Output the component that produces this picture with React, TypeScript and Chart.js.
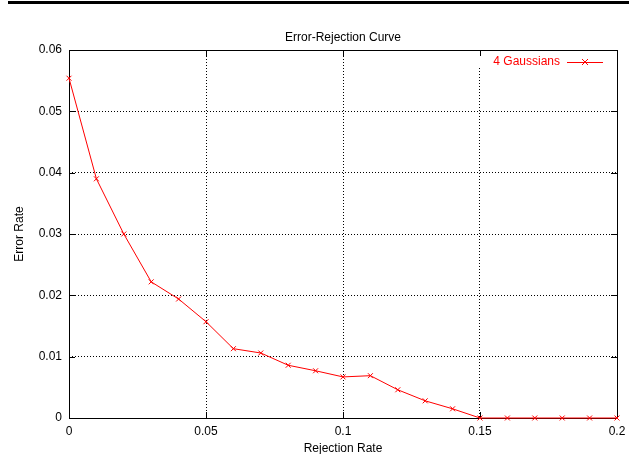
import React, { useEffect, useRef } from 'react';
import { Chart, registerables } from 'chart.js';

Chart.register(...registerables);

const chartTitle = 'Error-Rejection Curve';
const xAxisTitle = 'Rejection Rate';
const yAxisTitle = 'Error Rate';
const seriesLabel = '4 Gaussians';

const rejectionRates = [0, 0.01, 0.02, 0.03, 0.04, 0.05, 0.06, 0.07, 0.08, 0.09, 0.1, 0.11, 0.12, 0.13, 0.14, 0.15, 0.16, 0.17, 0.18, 0.19, 0.2];
const errorRates = [0.0554, 0.039, 0.03, 0.0222, 0.0194, 0.0157, 0.0113, 0.0106, 0.0086, 0.0077, 0.0067, 0.0069, 0.0046, 0.0028, 0.0015, 0, 0, 0, 0, 0, 0];

const xTicks = [0, 0.05, 0.1, 0.15, 0.2];
const yTicks = [0, 0.01, 0.02, 0.03, 0.04, 0.05, 0.06];

const FONT = "'Liberation Sans', Arial, Helvetica, sans-serif";
const RED = '#ff0000';

const fmt = (v: number) => String(Number(v.toFixed(4)));

const decorPlugin = {
  id: 'gnuplotDecor',
  beforeDraw(chart: any) {
    const ctx = chart.ctx;
    ctx.save();
    ctx.fillStyle = '#ffffff';
    ctx.fillRect(0, 0, chart.width, chart.height);
    ctx.fillStyle = '#000000';
    ctx.fillRect(8, 1, chart.width - 8, 3);
    ctx.restore();
  },
  beforeDatasetsDraw(chart: any) {
    const ctx = chart.ctx;
    const { left, right, top, bottom } = chart.chartArea;
    const xs = chart.scales.x;
    const ys = chart.scales.y;
    ctx.save();
    // legend background clears grid lines behind the key
    ctx.fillStyle = '#ffffff';
    ctx.fillRect(470, top + 1, right - 470 - 1, 17);
    // border
    ctx.strokeStyle = '#000000';
    ctx.lineWidth = 1;
    ctx.strokeRect(Math.round(left) + 0.5, Math.round(top) + 0.5, Math.round(right - left), Math.round(bottom - top));
    // inward ticks
    const tl = 6;
    ctx.beginPath();
    xTicks.forEach((v) => {
      const px = Math.round(xs.getPixelForValue(v)) + 0.5;
      ctx.moveTo(px, bottom);
      ctx.lineTo(px, bottom - tl);
      ctx.moveTo(px, top);
      ctx.lineTo(px, top + tl);
    });
    yTicks.forEach((v) => {
      const py = Math.round(ys.getPixelForValue(v)) + 0.5;
      ctx.moveTo(left, py);
      ctx.lineTo(left + tl, py);
      ctx.moveTo(right, py);
      ctx.lineTo(right - tl, py);
    });
    ctx.stroke();
    ctx.restore();
  },
  afterDatasetsDraw(chart: any) {
    const ctx = chart.ctx;
    const { top } = chart.chartArea;
    const y = top + 12;
    ctx.save();
    ctx.fillStyle = RED;
    ctx.strokeStyle = RED;
    ctx.font = `12px ${FONT}`;
    ctx.textAlign = 'right';
    ctx.textBaseline = 'middle';
    ctx.fillText(seriesLabel, 560, y);
    ctx.lineWidth = 1;
    ctx.beginPath();
    ctx.moveTo(567, y + 0.5);
    ctx.lineTo(603, y + 0.5);
    const cx = 585;
    const r = 3;
    ctx.moveTo(cx - r, y - r);
    ctx.lineTo(cx + r, y + r);
    ctx.moveTo(cx - r, y + r);
    ctx.lineTo(cx + r, y - r);
    ctx.stroke();
    ctx.restore();
  },
};

export default function App() {
  const ref = useRef<HTMLCanvasElement | null>(null);

  useEffect(() => {
    if (!ref.current) return;
    const chart = new Chart(ref.current, {
      type: 'line',
      data: {
        datasets: [
          {
            label: seriesLabel,
            data: rejectionRates.map((x, i) => ({ x, y: errorRates[i] })),
            borderColor: RED,
            backgroundColor: RED,
            borderWidth: 1,
            pointStyle: 'crossRot',
            pointRadius: 3.5,
            pointBorderWidth: 1,
            pointBorderColor: RED,
            pointHoverRadius: 3.5,
            tension: 0,
            fill: false,
            clip: false as any,
          },
        ],
      },
      options: {
        responsive: false,
        animation: false,
        devicePixelRatio: 1,
        layout: { padding: { left: 0, right: 12, top: 0, bottom: 0 } },
        plugins: {
          legend: { display: false },
          tooltip: { enabled: false },
          title: {
            display: true,
            text: chartTitle,
            fullSize: false,
            color: '#000000',
            font: { family: FONT, size: 12, weight: 'normal' as any },
            padding: { top: 30, bottom: 5.6 },
          },
        },
        scales: {
          x: {
            type: 'linear',
            min: 0,
            max: 0.2,
            afterBuildTicks: (s: any) => {
              s.ticks = xTicks.map((v) => ({ value: v }));
            },
            afterFit: (s: any) => {
              s.height = 36;
              s.paddingRight = 12;
              s.paddingLeft = 0;
            },
            ticks: {
              color: '#000000',
              font: { family: FONT, size: 12 },
              padding: 6,
              maxRotation: 0,
              callback: (v: any) => fmt(Number(v)),
            },
            grid: {
              color: '#000000',
              lineWidth: 1,
              drawTicks: false,
            },
            border: { display: false, dash: [1, 2] },
            title: {
              display: true,
              text: xAxisTitle,
              color: '#000000',
              font: { family: FONT, size: 12 },
              padding: { top: 0, bottom: -2 },
            },
          },
          y: {
            type: 'linear',
            min: 0,
            max: 0.06,
            afterBuildTicks: (s: any) => {
              s.ticks = yTicks.map((v) => ({ value: v }));
            },
            afterFit: (s: any) => {
              s.width = 69;
            },
            ticks: {
              color: '#000000',
              font: { family: FONT, size: 12 },
              padding: 7,
              callback: (v: any) => fmt(Number(v)),
            },
            grid: {
              color: '#000000',
              lineWidth: 1,
              drawTicks: false,
            },
            border: { display: false, dash: [1, 2] },
            title: {
              display: true,
              text: yAxisTitle,
              color: '#000000',
              font: { family: FONT, size: 12 },
              padding: { top: 12, bottom: 0 },
            },
          },
        },
      },
      plugins: [decorPlugin],
    });
    return () => chart.destroy();
  }, []);

  return (
    <div style={{ position: 'absolute', left: 0, top: 0, width: 629, height: 454 }}>
      <canvas ref={ref} width={629} height={454} />
    </div>
  );
}
